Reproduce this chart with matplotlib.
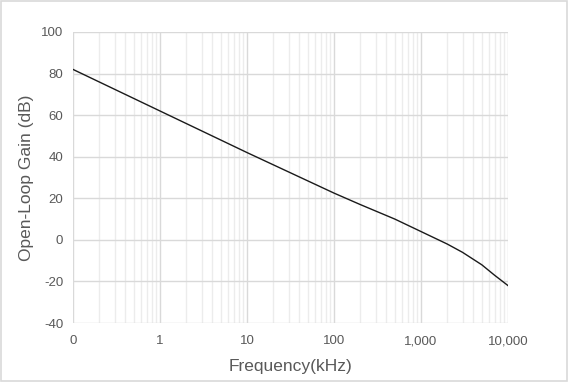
import matplotlib
matplotlib.use("Agg")
import matplotlib.pyplot as plt
from matplotlib.ticker import FixedLocator, FixedFormatter, LogLocator, NullFormatter

freq_khz = [0.1, 1, 10, 100, 200, 500, 1000, 2000, 3000, 5000, 7000, 10000]
gain_db = [82, 62, 42, 22.5, 17, 10, 4, -2, -6, -12, -17, -22]
xticks = [0.1, 1, 10, 100, 1000, 10000]
xtick_labels = ["0", "1", "10", "100", "1,000", "10,000"]
yticks = [-40, -20, 0, 20, 40, 60, 80, 100]

TXT, MAJ, MIN = "#595959", "#d9d9d9", "#ececec"
plt.rcParams["font.family"] = ["Liberation Sans", "DejaVu Sans"]
plt.rcParams["axes.unicode_minus"] = False

fig = plt.figure(figsize=(5.69, 3.82), dpi=100)
ax = fig.add_axes([73 / 569, 59 / 382, 435 / 569, 291 / 382])
ax.set_xscale("log")
ax.set_xlim(0.1, 10000)
ax.set_ylim(-40, 100)

ax.plot(freq_khz, gain_db, color="#1a1a1a", lw=1.0, zorder=3)

ax.xaxis.set_major_locator(FixedLocator(xticks))
ax.xaxis.set_major_formatter(FixedFormatter(xtick_labels))
ax.xaxis.set_minor_locator(LogLocator(base=10, subs=range(2, 10)))
ax.xaxis.set_minor_formatter(NullFormatter())
ax.set_yticks(yticks)

ax.grid(which="major", color=MAJ, lw=1.0)
ax.grid(which="minor", axis="x", color=MIN, lw=1.0)
ax.set_axisbelow(True)
for s in ax.spines.values():
    s.set_visible(False)
ax.tick_params(which="both", length=0, colors=TXT, labelsize=9.5, pad=9)
ax.tick_params(axis="y", pad=7)

ax.set_xlabel("Frequency(kHz)", color=TXT, fontsize=12.5, labelpad=8)
ax.set_ylabel("Open-Loop Gain (dB)", color=TXT, fontsize=12.5, labelpad=5)

fig.patches.append(plt.Rectangle((0.002, 0.003), 0.995, 0.994, transform=fig.transFigure,
                                 fill=False, edgecolor="#d9d9d9", lw=1.2))
fig.savefig("out.png", dpi=100)
